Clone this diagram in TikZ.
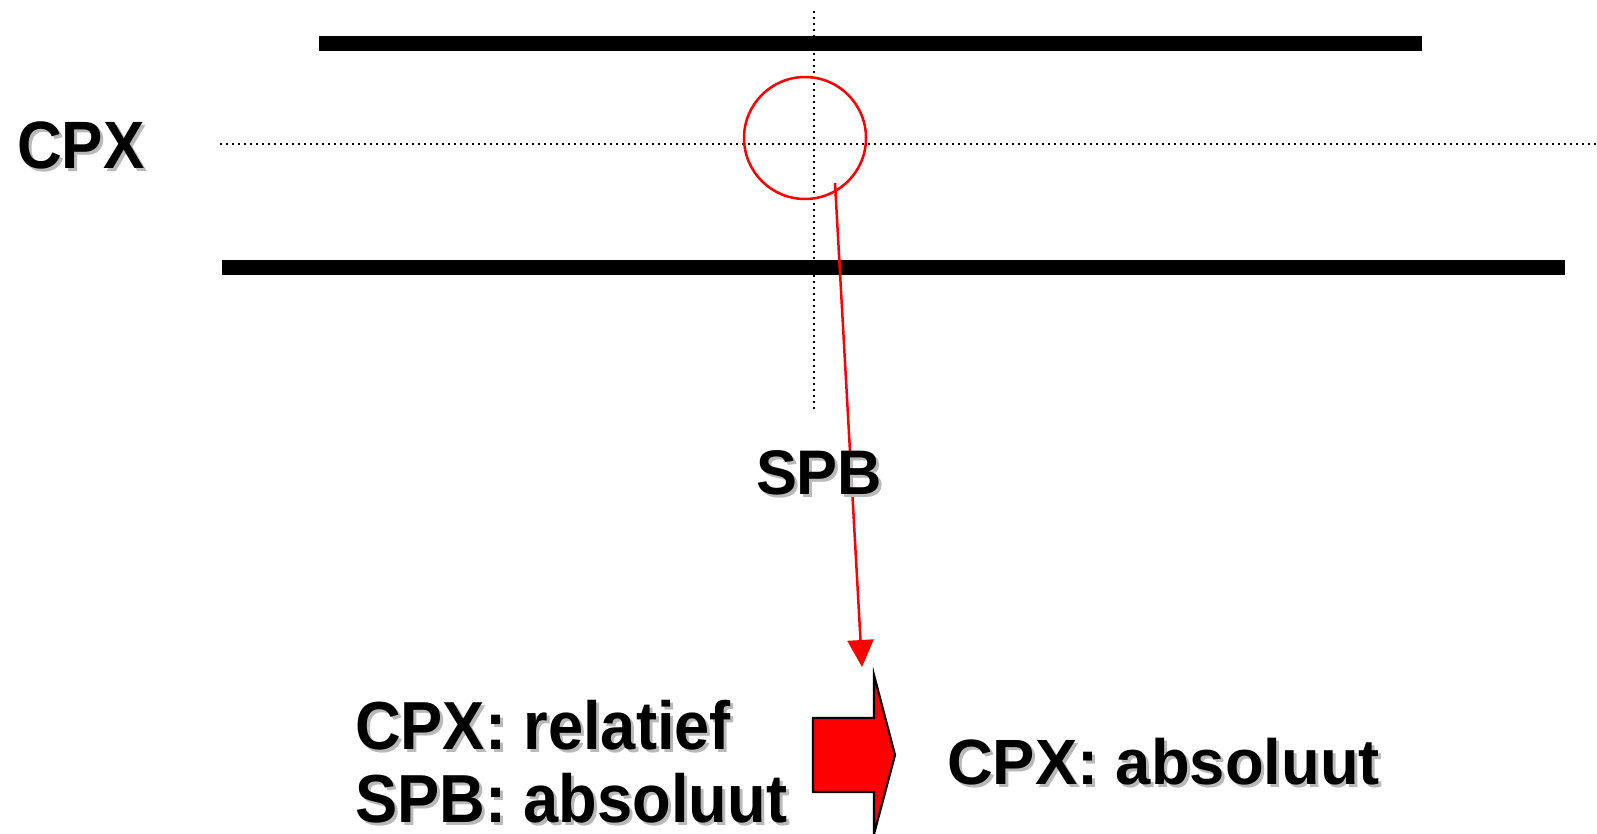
\documentclass[tikz,border=0pt]{standalone}
\usepackage{fontspec}
\setmainfont{Liberation Sans}
\usetikzlibrary{arrows.meta}
\definecolor{shadowgray}{RGB}{185,185,185}
% #1 = font size, #2 = horizontal squeeze, #3 = text
\newcommand{\bigtxt}[3]{\scalebox{#2}[1]{\fontsize{#1}{#1}\selectfont\bfseries #3}}
\tikzset{
  lbl/.style={anchor=base west, inner sep=0pt, outer sep=0pt},
  shd/.style={lbl, text=shadowgray},
  thickbar/.style={line width=15pt},
  dotline/.style={line width=2.2pt, dash pattern=on 2.2pt off 3.8pt},
  redline/.style={draw=red, line width=2.5pt},
}
\begin{document}
\begin{tikzpicture}[x=1pt,y=-1pt]
\useasboundingbox (0,0) rectangle (1597,833);
% thick bars
\draw[thickbar] (319,43) -- (1422,43);
\draw[thickbar] (222,267) -- (1565,267);
% dotted axes
\draw[dotline] (220,144) -- (1597,144);
\draw[dotline] (814,11) -- (814,409);
% circle
\node[redline, circle, minimum size=122pt, inner sep=0pt] (circ) at (805,138) {};
\coordinate (start) at (835,183);
\coordinate (tip) at (862,667);
\draw[red, line width=2.5pt, -{Triangle[width=26pt,length=27pt]}] (start) -- (tip);
% block arrow
\draw[fill=red, draw=black, line width=2.2pt, line join=miter]
  (813,718) -- (874,718) -- (874,675) -- (895,755) -- (874,834) -- (874,792) -- (813,792) -- cycle;
% labels with shadows
\node[shd] at (20,171) {\bigtxt{67}{0.925}{CPX}};
\node[lbl] (cpx) at (17,168) {\bigtxt{67}{0.925}{CPX}};
\node[shd] at (759,497) {\bigtxt{63}{0.975}{SPB}};
\node[lbl] (spb) at (756,494) {\bigtxt{63}{0.975}{SPB}};
\node[shd] at (358,752) {\bigtxt{68}{0.93}{CPX: relatief}};
\node[lbl] (rel) at (355,749) {\bigtxt{68}{0.93}{CPX: relatief}};
\node[shd] at (358,825) {\bigtxt{68}{0.93}{SPB: absoluut}};
\node[lbl] (abs1) at (355,822) {\bigtxt{68}{0.93}{SPB: absoluut}};
\node[shd] at (950,787) {\bigtxt{64}{0.99}{CPX: absoluut}};
\node[lbl] (abs2) at (947,784) {\bigtxt{64}{0.99}{CPX: absoluut}};
\end{tikzpicture}
\end{document}
